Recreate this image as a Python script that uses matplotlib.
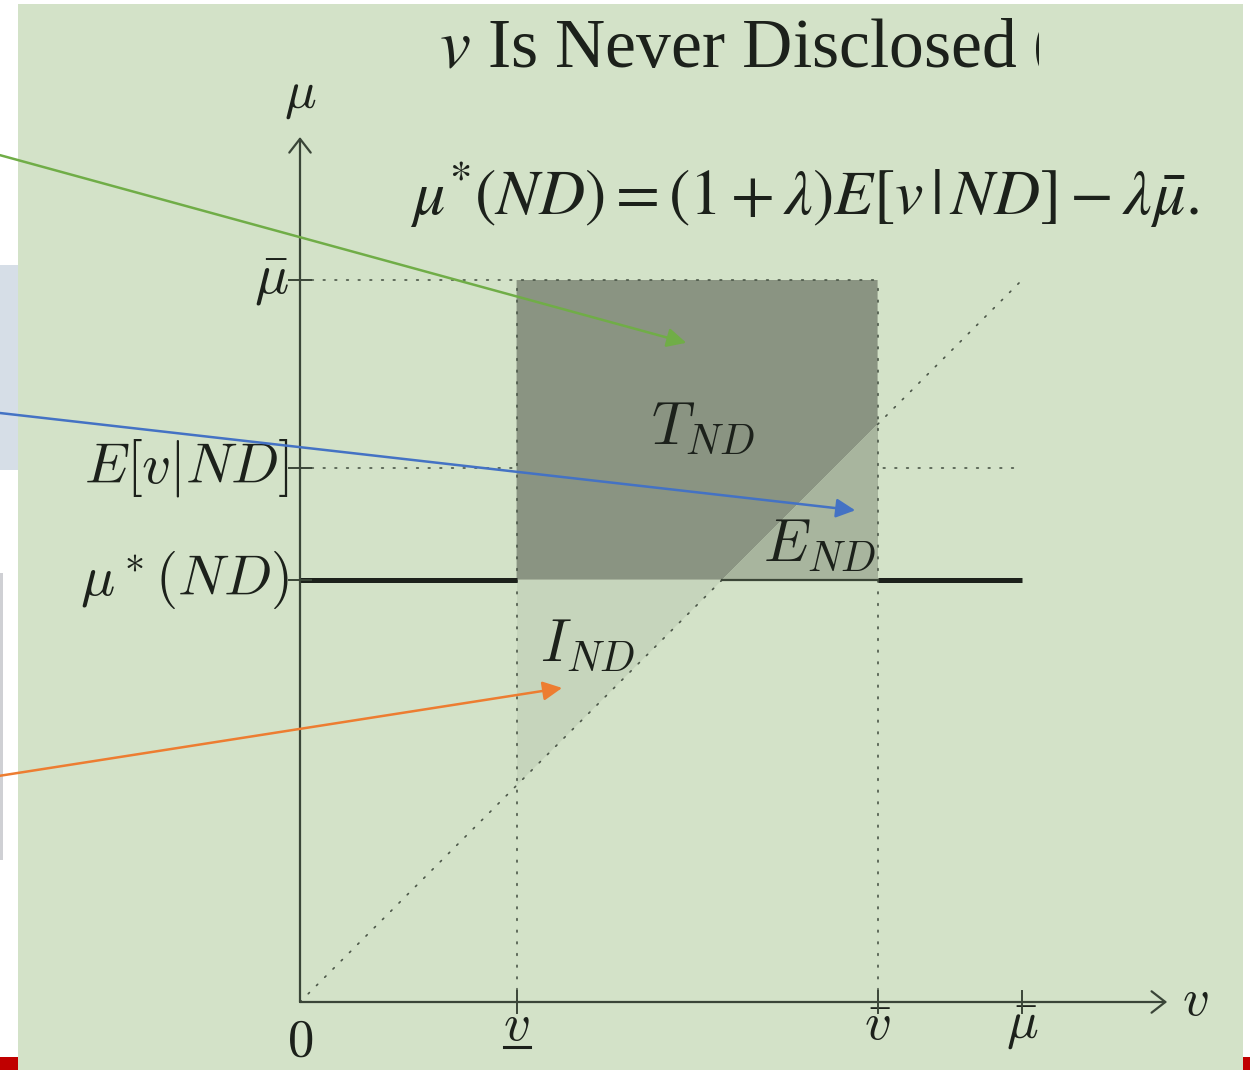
import matplotlib
matplotlib.use("Agg")
import matplotlib.pyplot as plt
from matplotlib.patches import Rectangle, Polygon
from matplotlib.transforms import Bbox, TransformedBbox

# values in units of mu_bar
mu_bar = 1.0
v_low = 0.30
v_high = 0.80
e_nd = 0.74
mu_star = 0.585

y_ticks = [mu_bar, e_nd, mu_star]
y_tick_labels = [r"$\bar{\mu}$", r"$E[v|ND]$", r"$\mu^*(ND)$"]
x_ticks = [v_low, v_high, mu_bar]
x_tick_labels = [r"$v$", r"$\bar{v}$", r"$\bar{\mu}$"]

region_names = [r"$T_{ND}$", r"$E_{ND}$", r"$I_{ND}$"]
region_colors = ["#8a9482", "#a8b59e", "#c6d5bc"]
label_pos = [(0.558, 0.795), (0.72, 0.633), (0.399, 0.494)]

# callout arrows: tip in data units, tail as height on the left edge
arrow_tips = [(0.535, 0.913), (0.769, 0.681), (0.363, 0.435)]
arrow_tails = [0.855, 0.614, 0.275]
arrow_colors = ["#70ad47", "#4472c4", "#ed7d31"]

title = "Is Never Disclosed"
equation = r"$\mu^{*}(ND) = (1+\lambda)E[v\,|\,ND] - \lambda\bar{\mu}.$"

W, H = 1250, 1070
BG = "#d3e2c8"
INK = "#1c211b"
AXC = "#3a4538"
DOT = "#4b5648"

plt.rcParams["mathtext.fontset"] = "cm"

fig = plt.figure(figsize=(W / 100, H / 100), dpi=100)
fig.patch.set_facecolor("white")


def panel(x0, y0, x1, y1, color):
    fig.add_artist(Rectangle((x0 / W, 1 - y1 / H), (x1 - x0) / W, (y1 - y0) / H,
                             transform=fig.transFigure, facecolor=color,
                             lw=0, zorder=-5))


# slide pieces behind the diagram
panel(0, 265, 20, 470, "#d6dee7")
panel(0, 573, 3, 860, "#cfd0d4")
panel(0, 1057, 20, 1070, "#c00000")
panel(1240, 1057, 1250, 1070, "#c00000")
panel(18, 4, 1243, 1070, BG)

ax = fig.add_axes([0, 0, 1, 1])
ax.set_xlim(-300 / 722, 950 / 722)
ax.set_ylim(-68 / 722, 1002 / 722)
ax.axis("off")
ax.patch.set_visible(False)

# dotted guide at E[v|ND], hidden inside the box
ax.plot([0, mu_bar], [e_nd, e_nd], ls=(0, (1, 6)), color=DOT, lw=1.2,
        dash_capstyle="round", zorder=1)

# shaded regions
t_poly = [(v_low, mu_star), (mu_star, mu_star), (v_high, v_high),
          (v_high, mu_bar), (v_low, mu_bar)]
e_poly = [(mu_star, mu_star), (v_high, mu_star), (v_high, v_high)]
i_poly = [(v_low, v_low), (v_low, mu_star), (mu_star, mu_star)]
for poly, col in zip([t_poly, e_poly, i_poly], region_colors):
    ax.add_patch(Polygon(poly, closed=True, facecolor=col, lw=0, zorder=2))

dotted = dict(ls=(0, (1, 6)), color=DOT, lw=1.2, dash_capstyle="round", zorder=3)
ax.plot([0, v_high], [mu_bar, mu_bar], **dotted)
ax.plot([v_low, v_low], [0, mu_bar], **dotted)
ax.plot([v_high, v_high], [0, mu_bar], **dotted)
ax.plot([0, mu_star], [0, mu_star], **dotted)
ax.plot([v_high, mu_bar], [v_high, mu_bar], **dotted)

# mu*(ND) level
ax.plot([0, v_low], [mu_star, mu_star], color=INK, lw=3.6, solid_capstyle="butt", zorder=4)
ax.plot([v_high, mu_bar], [mu_star, mu_star], color=INK, lw=3.6, solid_capstyle="butt", zorder=4)
ax.plot([mu_star, v_high], [mu_star, mu_star], color="#3b4637", lw=1.6, zorder=4)

# axes with open arrow heads
axis_arrow = dict(arrowstyle="->,head_length=0.45,head_width=0.35", color=AXC,
                  lw=1.6, shrinkA=0, shrinkB=0, mutation_scale=22)
ax.annotate("", xy=(1.201, 0), xytext=(0, 0), arrowprops=axis_arrow, zorder=5)
ax.annotate("", xy=(0, 1.198), xytext=(0, 0), arrowprops=axis_arrow, zorder=5)

tk = 0.015
for y, lab in zip(y_ticks, y_tick_labels):
    ax.plot([-tk, tk], [y, y], color=AXC, lw=1.4, zorder=5)
    ax.text(-tk, y, lab, ha="right", va="center", fontsize=41, color=INK)
for x, lab in zip(x_ticks, x_tick_labels):
    ax.plot([x, x], [-tk, tk], color=AXC, lw=1.4, zorder=5)
    ax.text(x, -0.032, lab, ha="center", va="center", fontsize=38, color=INK)
# bar under the lower bound label
ax.plot([v_low - 0.018, v_low + 0.018], [-0.062, -0.062], color=INK, lw=2.2)

ax.text(0, -0.053, "$0$", ha="center", va="center", fontsize=38, color=INK)
ax.text(1.24, 0.003, "$v$", ha="center", va="center", fontsize=38, color=INK)
ax.text(0, 1.256, r"$\mu$", ha="center", va="center", fontsize=38, color=INK)

for name, (x, y) in zip(region_names, label_pos):
    ax.text(x, y, name, ha="center", va="center", fontsize=43, color=INK, zorder=6)

# heading and formula
ax.text(0.593, 1.296, r"$v$ " + title, ha="center", va="baseline", fontsize=50,
        family="Liberation Serif", math_fontfamily="stix", color=INK)
par = ax.text(1.015, 1.296, "(", ha="left", va="baseline", fontsize=50,
              family="Liberation Serif", color=INK)
par.set_clip_box(TransformedBbox(Bbox([[0, 0], [1039 / W, 1]]), fig.transFigure))
par.set_clip_on(True)
ax.text(0.699, 1.118, equation, ha="center", va="center", fontsize=46,
        math_fontfamily="stix", color=INK)

# callouts from the left margin
for (tx, ty), yt, col in zip(arrow_tips, arrow_tails, arrow_colors):
    ax.annotate("", xy=(tx, ty), xytext=(0, yt), textcoords="axes fraction",
                arrowprops=dict(arrowstyle="-|>", color=col, lw=1.8,
                                shrinkA=0, shrinkB=0, mutation_scale=29),
                zorder=8)

fig.savefig("out.png", dpi=100)
